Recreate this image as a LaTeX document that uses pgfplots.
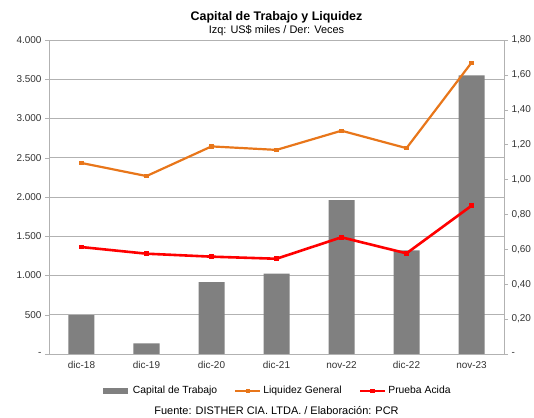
\documentclass[border=0pt]{standalone}
\usepackage{pgfplots}
\pgfplotsset{compat=1.18}
\usepackage{fontspec}
\setmainfont{Liberation Sans}

\definecolor{barGray}{RGB}{128,128,128}
\definecolor{liqOrange}{RGB}{232,118,26}
\definecolor{gridGray}{RGB}{178,178,178}

\pgfplotsset{
  common/.style={
    scale only axis,
    width=455bp, height=314bp,
    xmin=-0.5, xmax=6.5,
    tick label style={font=\fontsize{10}{12}\selectfont, text=black!80},
    tick align=outside,
    major tick length=4bp,
    every tick/.style={gridGray},
    axis line style={gridGray, line width=0.8pt},
  }
}

\begin{document}
\begin{tikzpicture}
\useasboundingbox (-49bp,-64bp) rectangle (485bp,354bp);

\begin{axis}[
    common,
    axis y line*=left,
    axis x line*=bottom,
    ymin=0, ymax=4000,
    ytick={0,500,1000,1500,2000,2500,3000,3500,4000},
    yticklabels={-,500,1.000,1.500,2.000,2.500,3.000,3.500,4.000},
    xtick={0,...,6},
    xticklabels={dic-18,dic-19,dic-20,dic-21,nov-22,dic-22,nov-23},
    x tick style={draw=none},
    ymajorgrids=true,
    grid style={gridGray, line width=0.8pt},
    ybar, bar width=26bp,
]
% Capital de Trabajo
\addplot[fill=barGray, draw=none] coordinates {
  (0,495) (1,135) (2,915) (3,1025) (4,1960) (5,1320) (6,3550)
};
\end{axis}

\begin{axis}[
    common,
    axis y line*=right,
    axis x line=none,
    ymin=0, ymax=1.8,
    ytick={0,0.2,0.4,0.6,0.8,1.0,1.2,1.4,1.6,1.8},
    yticklabels={-,{0,20},{0,40},{0,60},{0,80},{1,00},{1,20},{1,40},{1,60},{1,80}},
    legend style={at={(0.5,-0.09)}, anchor=north, draw=none, fill=none,
      legend columns=3, font=\fontsize{10.4}{12}\selectfont,
      /tikz/every even column/.append style={column sep=15bp}},
    legend image code/.code={
      \draw[mark repeat=2,mark phase=2,#1] plot coordinates {(0bp,0bp) (12.5bp,0bp) (25bp,0bp)};},
]
\addlegendimage{barGray, line width=5.5bp}
\addlegendentry{Capital de Trabajo}
% Liquidez General
\addplot[liqOrange, line width=2.2bp, mark=square*, mark size=1bp] coordinates {
  (0,1.095) (1,1.02) (2,1.19) (3,1.17) (4,1.28) (5,1.18) (6,1.67)
};
\addlegendentry{Liquidez General}
% Prueba Acida
\addplot[red, line width=2.6bp, mark=square*, mark size=1bp,
  mark options={fill=olive!70!yellow, draw=red}] coordinates {
  (0,0.613) (1,0.575) (2,0.558) (3,0.546) (4,0.669) (5,0.577) (6,0.85)
};
\addlegendentry{Prueba Acida}
\end{axis}

\node[font=\bfseries\fontsize{12.5}{14}\selectfont] at (227.5bp,337bp) {Capital de Trabajo y Liquidez};
\node[font=\fontsize{11}{13}\selectfont] at (227.5bp,323bp) {Izq: US\$ miles / Der: Veces};
\node[font=\fontsize{11}{13}\selectfont] at (227.5bp,-57bp) {Fuente: DISTHER CIA. LTDA. / Elaboración: PCR};
\end{tikzpicture}
\end{document}
